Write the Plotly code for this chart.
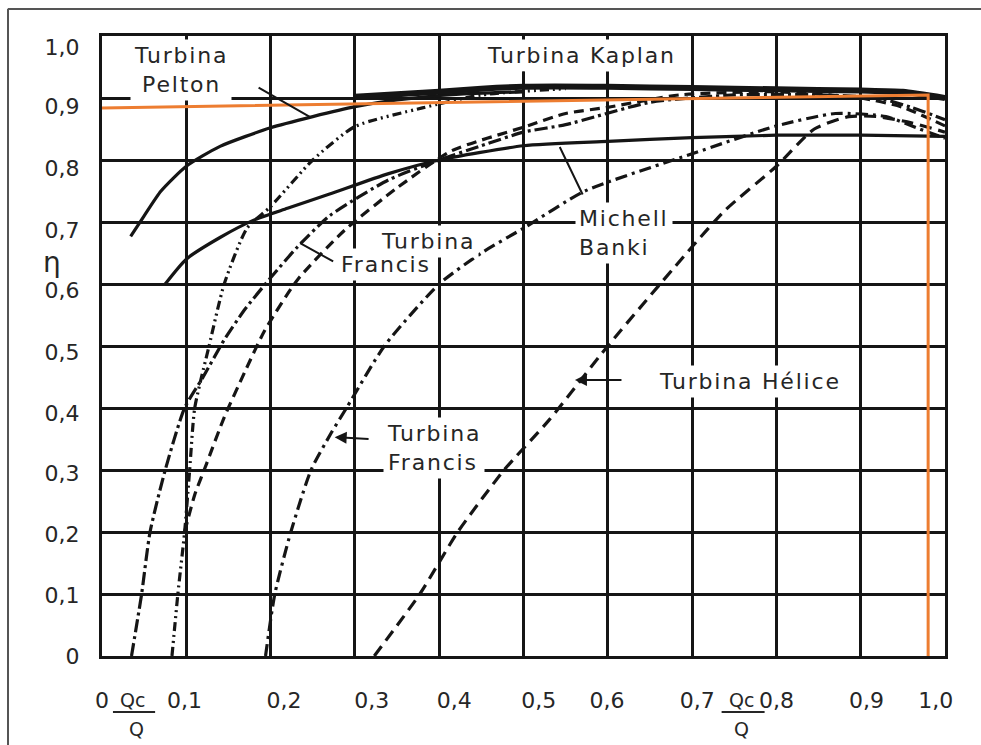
import plotly.graph_objects as go

# ---- efficiency curves: eta versus Qc/Q ----
pelton_x = [0.034, 0.05, 0.07, 0.1, 0.14, 0.2, 0.25, 0.3, 0.35, 0.42, 0.5]
pelton_y = [0.677, 0.71, 0.75, 0.79, 0.822, 0.852, 0.87, 0.886, 0.897, 0.906, 0.91]

kaplan_x = [0.3, 0.35, 0.4, 0.45, 0.5, 0.6, 0.7, 0.8, 0.9, 0.95, 1.0]
kaplan_y = [0.902, 0.906, 0.91, 0.915, 0.918, 0.918, 0.916, 0.914, 0.912, 0.91, 0.9]

michell_x = [0.075, 0.1, 0.14, 0.18, 0.22, 0.27, 0.34, 0.4, 0.5, 0.6, 0.7, 0.8, 0.9, 1.0]
michell_y = [0.6, 0.64, 0.675, 0.703, 0.722, 0.745, 0.778, 0.8, 0.823, 0.83, 0.836, 0.84, 0.84, 0.838]

francis_a_x = [0.083, 0.09, 0.098, 0.104, 0.11, 0.127, 0.145, 0.172, 0.2, 0.25, 0.3, 0.38, 0.45, 0.55]
francis_a_y = [0.0, 0.1, 0.2, 0.3, 0.4, 0.5, 0.6, 0.69, 0.725, 0.8, 0.854, 0.884, 0.905, 0.915]

francis_b_x = [0.035, 0.047, 0.057, 0.075, 0.098, 0.12, 0.145, 0.17, 0.2, 0.232, 0.27, 0.34,
               0.4, 0.45, 0.5, 0.55, 0.65, 0.75, 0.85, 0.92, 0.96, 1.0]
francis_b_y = [0.0, 0.1, 0.2, 0.3, 0.4, 0.45, 0.51, 0.56, 0.61, 0.66, 0.71, 0.768,
               0.8, 0.823, 0.845, 0.857, 0.893, 0.905, 0.905, 0.9, 0.885, 0.865]

francis_c_x = [0.098, 0.11, 0.124, 0.145, 0.17, 0.193, 0.232, 0.288, 0.35, 0.415, 0.5, 0.55,
               0.6, 0.685, 0.8, 0.9, 0.95, 1.0]
francis_c_y = [0.2, 0.26, 0.31, 0.385, 0.46, 0.525, 0.607, 0.687, 0.755, 0.815, 0.853, 0.875,
               0.885, 0.905, 0.91, 0.9, 0.885, 0.855]

francis_low_x = [0.194, 0.205, 0.224, 0.248, 0.272, 0.29, 0.335, 0.4, 0.45, 0.5, 0.573, 0.7,
                 0.8, 0.87, 0.93, 0.97, 1.0]
francis_low_y = [0.0, 0.1, 0.2, 0.3, 0.36, 0.4, 0.5, 0.6, 0.65, 0.69, 0.75, 0.81,
                 0.855, 0.875, 0.87, 0.85, 0.835]

helice_x = [0.323, 0.377, 0.422, 0.477, 0.53, 0.6, 0.7, 0.74, 0.8, 0.845, 0.886, 0.92, 0.96, 1.0]
helice_y = [0.0, 0.1, 0.2, 0.3, 0.38, 0.5, 0.66, 0.72, 0.79, 0.85, 0.87, 0.87, 0.86, 0.845]

# design point marked in orange
design_x = [0.0, 0.98, 0.98]
design_y = [0.884, 0.905, 0.0]

# ---- axes ----
grid_vals = [0.0, 0.1, 0.2, 0.3, 0.4, 0.5, 0.6, 0.7, 0.8, 0.9, 1.0]
x_label_pos = [0.0, 0.098, 0.216, 0.32, 0.418, 0.518, 0.599, 0.706, 0.8, 0.907, 0.989]
x_label_txt = ["0", "0,1", "0,2", "0,3", "0,4", "0,5", "0,6", "0,7", "0,8", "0,9", "1,0"]
y_label_pos = [0.0, 0.098, 0.197, 0.295, 0.392, 0.49, 0.59, 0.687, 0.787, 0.887, 0.982]
y_label_txt = ["0", "0,1", "0,2", "0,3", "0,4", "0,5", "0,6", "0,7", "0,8", "0,9", "1,0"]

INK = "#151515"
TXT = "#262626"
FONT = "DejaVu Sans"


def wide(s, sp=1.8):
    """Slightly spread lettering, line by line."""
    return "<br>".join(f'<span style="letter-spacing:{sp}px">{part}</span>' for part in s.split("<br>"))


fig = go.Figure()


def curve(x, y, dash, width=3.0):
    fig.add_trace(go.Scatter(x=x, y=y, mode="lines", hoverinfo="skip",
                             line=dict(color=INK, width=width, dash=dash, shape="spline", smoothing=0.6)))


curve(pelton_x, pelton_y, "solid", 3.2)
curve(kaplan_x, kaplan_y, "solid", 6.0)
curve(michell_x, michell_y, "solid", 3.2)
curve(francis_a_x, francis_a_y, "9px,4px,2px,4px,2px,4px", 3.2)
curve(francis_b_x, francis_b_y, "13px,4px,3px,4px", 3.2)
curve(francis_c_x, francis_c_y, "10px,6px", 3.2)
curve(francis_low_x, francis_low_y, "12px,5px,3px,5px", 3.2)
curve(helice_x, helice_y, "12px,7px", 3.2)

fig.add_trace(go.Scatter(x=design_x, y=design_y, mode="lines", hoverinfo="skip",
                         line=dict(color="#ED7D31", width=3), xaxis="x2", yaxis="y2"))

# ---- curve labels ----
def label(x, y, text, xanchor="center", align="center"):
    fig.add_annotation(x=x, y=y, text=wide(text), showarrow=False, xanchor=xanchor, yanchor="middle",
                       align=align, font=dict(family=FONT, size=22, color=TXT),
                       bgcolor="white", borderpad=3)


label(0.094, 0.945, "Turbina<br>Pelton")
label(0.569, 0.969, "Turbina Kaplan")
label(0.326, 0.668, "Turbina", xanchor="left")
label(0.279, 0.631, "Francis", xanchor="left")
label(0.561, 0.682, "Michell<br>Banki", xanchor="left", align="left")
label(0.333, 0.335, "Turbina<br>Francis", xanchor="left", align="left")
label(0.656, 0.442, "Turbina Hélice", xanchor="left")


def leader(x0, y0, x1, y1, head=0):
    fig.add_annotation(x=x1, y=y1, ax=x0, ay=y0, axref="x", ayref="y", xref="x", yref="y",
                       text="", showarrow=True, arrowhead=head, arrowsize=1.2,
                       arrowwidth=2, arrowcolor=INK)


leader(0.184, 0.918, 0.247, 0.869, 0)
leader(0.5, 0.945, 0.5, 0.918, 0)
leader(0.276, 0.635, 0.235, 0.666, 0)
leader(0.571, 0.742, 0.543, 0.821, 0)
leader(0.318, 0.35, 0.276, 0.353, 2)
leader(0.618, 0.445, 0.561, 0.445, 2)

# axis symbols
fig.add_annotation(x=-0.059, y=0.635, xref="paper", yref="paper", text="η", showarrow=False,
                   xanchor="center", yanchor="middle", font=dict(family=FONT, size=28, color=TXT))
for cx_top, cx_bot, x0, x1 in [(0.036, 0.0415, 0.013, 0.063), (0.759, 0.759, 0.735, 0.786)]:
    fig.add_annotation(x=cx_top, y=-0.071, xref="paper", yref="paper", text="Qc", showarrow=False,
                       xanchor="center", yanchor="middle", font=dict(family=FONT, size=19, color=TXT))
    fig.add_annotation(x=cx_bot, y=-0.118, xref="paper", yref="paper", text="Q", showarrow=False,
                       xanchor="center", yanchor="middle", font=dict(family=FONT, size=19, color=TXT))
    fig.add_shape(type="line", xref="paper", yref="paper", x0=x0, x1=x1, y0=-0.0903, y1=-0.0903,
                  line=dict(color=TXT, width=2))

# page border of the sheet
fig.add_shape(type="line", xref="paper", yref="paper", x0=-0.1115, x1=-0.1115, y0=1.044, y1=-0.15,
              line=dict(color="#555", width=2))
fig.add_shape(type="line", xref="paper", yref="paper", x0=-0.1115, x1=1.05, y0=1.0435, y1=1.0435,
              line=dict(color="#555", width=2))

axis_common = dict(range=[0, 1], zeroline=False, fixedrange=True)
fig.update_layout(
    width=981, height=745,
    margin=dict(l=102, r=36, t=36, b=89),
    paper_bgcolor="white", plot_bgcolor="white",
    showlegend=False,
    xaxis=dict(**axis_common, tickvals=grid_vals, showticklabels=False, showgrid=True,
               gridcolor=INK, gridwidth=2.8, showline=True, mirror=True, linewidth=3.2,
               linecolor=INK, ticks=""),
    yaxis=dict(**axis_common, tickvals=grid_vals, showticklabels=False, showgrid=True,
               gridcolor=INK, gridwidth=2.8, showline=True, mirror=True, linewidth=3.2,
               linecolor=INK, ticks=""),
    xaxis2=dict(**axis_common, overlaying="x", anchor="y2", side="bottom",
                tickvals=x_label_pos, ticktext=x_label_txt, showgrid=False, showline=False,
                ticks="outside", ticklen=25, tickcolor="rgba(0,0,0,0)",
                tickfont=dict(family=FONT, size=22, color=TXT)),
    yaxis2=dict(**axis_common, overlaying="y", anchor="x2", side="left",
                tickvals=y_label_pos, ticktext=y_label_txt, showgrid=False, showline=False,
                ticks="outside", ticklen=17, tickcolor="rgba(0,0,0,0)",
                tickfont=dict(family=FONT, size=22, color=TXT)),
)

fig.write_html("out.html")
